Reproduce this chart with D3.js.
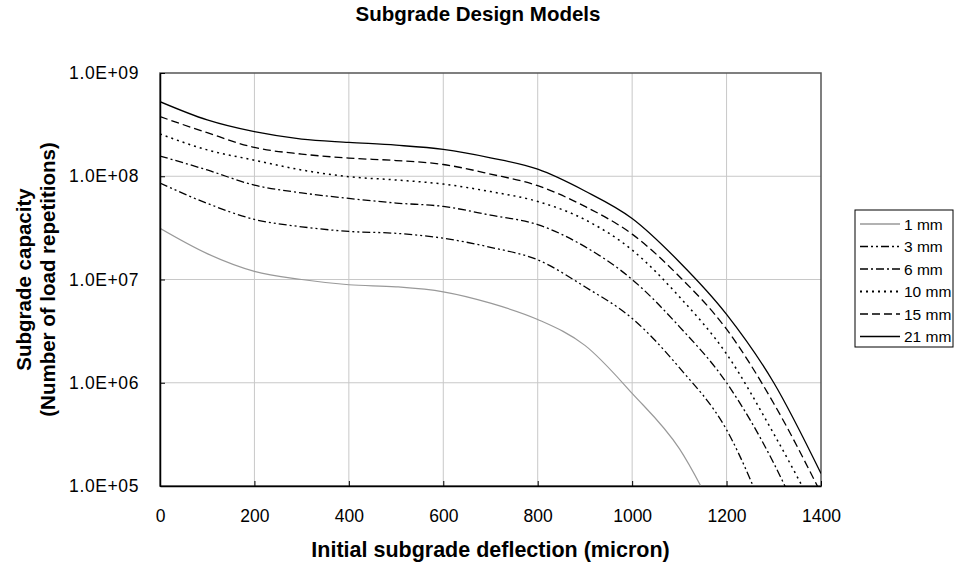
<!DOCTYPE html>
<html>
<head>
<meta charset="utf-8">
<script src="https://cdn.jsdelivr.net/npm/d3@7"></script>
<style>
  body { margin: 0; background: #fff; }
  svg { font-family: "Liberation Sans", Arial, sans-serif; }
</style>
</head>
<body>
<svg id="chart" width="958" height="562"></svg>
<script>
// deflection values (micron)
var deflection = [0, 100, 200, 300, 400, 500, 600, 700, 800, 900, 1000, 1100, 1200, 1300, 1400];

// subgrade capacity per series (null = below the chart)
var mm1  = [3.13e7, 1.78e7, 1.2e7, 1.0e7, 8.9e6, 8.5e6, 7.6e6, 5.9e6, 4.1e6, 2.3e6, 7.9e5, 2.3e5, 3.2e4, null, null];
var mm3  = [8.6e7, 5.46e7, 3.82e7, 3.24e7, 2.92e7, 2.8e7, 2.51e7, 2.05e7, 1.55e7, 8.5e6, 4.2e6, 1.4e6, 3.5e5, 3.2e4, null];
var mm6  = [1.57e8, 1.15e8, 8.2e7, 6.9e7, 6.1e7, 5.5e7, 5.1e7, 4.2e7, 3.4e7, 2.08e7, 1.0e7, 3.5e6, 1.0e6, 1.66e5, 1.6e4];
var mm10 = [2.57e8, 1.8e8, 1.43e8, 1.15e8, 9.9e7, 9.2e7, 8.4e7, 7.1e7, 5.7e7, 3.8e7, 1.93e7, 6.8e6, 1.9e6, 3.2e5, 4.5e4];
var mm15 = [3.78e8, 2.64e8, 1.9e8, 1.64e8, 1.5e8, 1.42e8, 1.3e8, 1.05e8, 8.1e7, 5.1e7, 2.75e7, 1.07e7, 3.3e6, 6.3e5, 8.5e4];
var mm21 = [5.27e8, 3.51e8, 2.7e8, 2.29e8, 2.13e8, 2.0e8, 1.82e8, 1.51e8, 1.17e8, 7.2e7, 3.9e7, 1.48e7, 4.6e6, 1.0e6, 1.32e5];

var seriesNames = ["1 mm", "3 mm", "6 mm", "10 mm", "15 mm", "21 mm"];
var seriesValues = [mm1, mm3, mm6, mm10, mm15, mm21];

var xTicks = [0, 200, 400, 600, 800, 1000, 1200, 1400];
var yTicks = [1e5, 1e6, 1e7, 1e8, 1e9];

// look of each line
var styles = [
    {color: "#999999", width: 1.2, dash: null},
    {color: "#000", width: 1.3, dash: "8,3,2,3,2,3"},
    {color: "#000", width: 1.3, dash: "8,3,2,3"},
    {color: "#000", width: 1.5, dash: "2,4"},
    {color: "#000", width: 1.3, dash: "8,4"},
    {color: "#000", width: 1.3, dash: null}
];

var svg = d3.select("#chart"),
    margin = {top: 73, left: 160, right: 137, bottom: 76},
    width = 958 - margin.left - margin.right,
    height = 562 - margin.top - margin.bottom;

var x = d3.scaleLinear().domain([0, 1400]).range([0, width]);
var y = d3.scaleLog().domain([1e5, 1e9]).range([height, 0]);

var g = svg.append("g").attr("transform", "translate(" + margin.left + "," + margin.top + ")");

// title
svg.append("text")
    .attr("x", 478).attr("y", 21)
    .attr("text-anchor", "middle")
    .style("font-weight", "bold").style("font-size", "20.5px")
    .text("Subgrade Design Models");

// grid
g.selectAll(".gx").data(xTicks.slice(1, -1)).enter().append("line")
    .attr("x1", function(d) { return x(d); }).attr("x2", function(d) { return x(d); })
    .attr("y1", 0).attr("y2", height)
    .attr("stroke", "#c8c8c8").attr("stroke-width", 1);
g.selectAll(".gy").data(yTicks.slice(1, -1)).enter().append("line")
    .attr("y1", function(d) { return y(d); }).attr("y2", function(d) { return y(d); })
    .attr("x1", 0).attr("x2", width)
    .attr("stroke", "#c8c8c8").attr("stroke-width", 1);

// plot border
g.append("rect").attr("width", width).attr("height", height)
    .attr("fill", "none").attr("stroke", "#555").attr("stroke-width", 1.5);

// clip for curves
svg.append("defs").append("clipPath").attr("id", "clip")
    .append("rect").attr("width", width).attr("height", height);

var line = d3.line()
    .defined(function(d) { return d[1] != null; })
    .x(function(d) { return x(d[0]); })
    .y(function(d) { return y(d[1]); })
    .curve(d3.curveMonotoneX);

var curves = g.append("g").attr("clip-path", "url(#clip)");
seriesValues.forEach(function(vals, i) {
    var pts = deflection.map(function(d, j) { return [d, vals[j]]; });
    curves.append("path")
        .datum(pts)
        .attr("d", line)
        .attr("fill", "none")
        .attr("stroke", styles[i].color)
        .attr("stroke-width", styles[i].width)
        .attr("stroke-dasharray", styles[i].dash);
});

// axes
var xAxis = g.append("g")
    .attr("transform", "translate(0," + height + ")")
    .call(d3.axisBottom(x).tickValues(xTicks).tickSizeInner(-5).tickSizeOuter(0).tickPadding(24)
        .tickFormat(d3.format("d")));
var yAxis = g.append("g")
    .call(d3.axisLeft(y).tickValues(yTicks).tickSizeInner(-5).tickSizeOuter(0).tickPadding(21)
        .tickFormat(function(d) { return "1.0E+" + d3.format("02d")(Math.round(Math.log10(d))); }));
[xAxis, yAxis].forEach(function(a) {
    a.select(".domain").attr("stroke", "#000").attr("stroke-width", 1.5);
    a.selectAll(".tick line").attr("stroke", "#000");
    a.selectAll(".tick text").style("font-size", "17.5px").attr("fill", "#000")
        .style("font-family", "'Liberation Sans', Arial, sans-serif");
});
yAxis.selectAll(".tick text").style("letter-spacing", "0.6px");

// axis titles
svg.append("text")
    .attr("x", margin.left + width / 2).attr("y", 557)
    .attr("text-anchor", "middle")
    .style("font-weight", "bold").style("font-size", "21.5px")
    .text("Initial subgrade deflection (micron)");
var yt = svg.append("text")
    .attr("transform", "translate(31," + (margin.top + height / 2) + ") rotate(-90)")
    .attr("text-anchor", "middle")
    .style("font-weight", "bold").style("font-size", "20.5px");
yt.append("tspan").attr("x", 0).attr("dy", 0).text("Subgrade capacity");
yt.append("tspan").attr("x", 0).attr("dy", 23.5).text("(Number of load repetitions)");

// legend
var lg = svg.append("g").attr("transform", "translate(855,210)");
lg.append("rect").attr("width", 98).attr("height", 137)
    .attr("fill", "#fff").attr("stroke", "#000").attr("stroke-width", 1);
seriesNames.forEach(function(name, i) {
    var yy = 14 + i * 22.5;
    lg.append("line")
        .attr("x1", 5).attr("x2", 45).attr("y1", yy).attr("y2", yy)
        .attr("stroke", styles[i].color)
        .attr("stroke-width", styles[i].width + 0.4)
        .attr("stroke-dasharray", styles[i].dash);
    lg.append("text")
        .attr("x", 49).attr("y", yy + 5.5)
        .style("font-size", "15.5px")
        .text(name);
});
</script>
</body>
</html>
